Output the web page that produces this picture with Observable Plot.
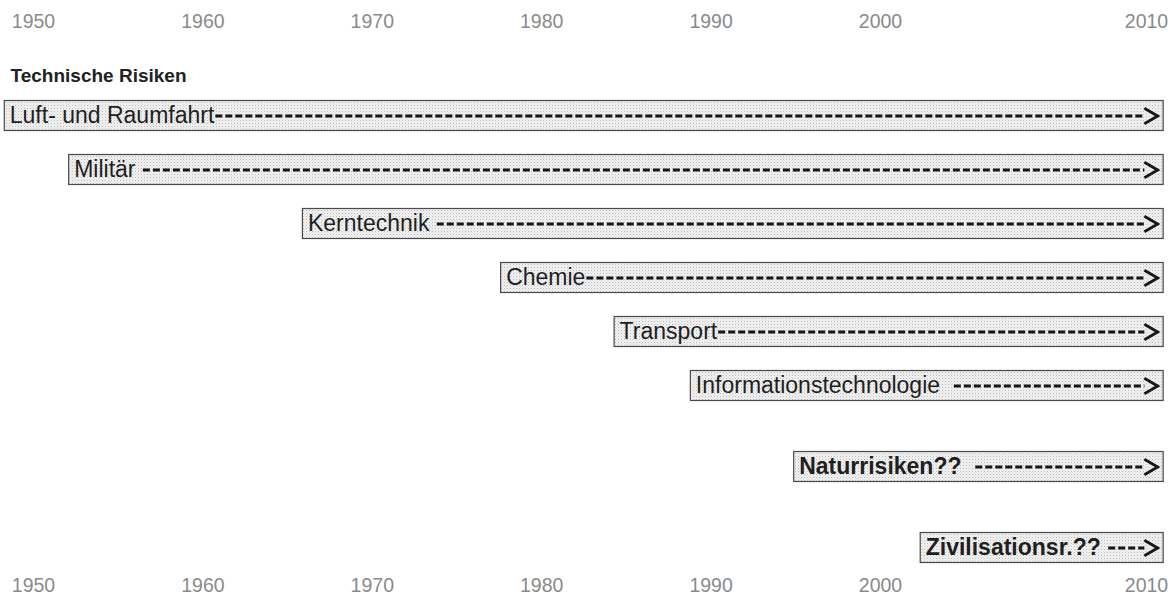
<!DOCTYPE html>
<html><head><meta charset="utf-8">
<script src="https://cdn.jsdelivr.net/npm/d3@7"></script>
<script src="https://cdn.jsdelivr.net/npm/@observablehq/plot@0.6"></script>
<style>
html,body{margin:0;padding:0;background:#fff;}
#chart svg{display:block;font-family:"Liberation Sans",Arial,Helvetica,sans-serif;}
</style></head><body>
<svg width="0" height="0" style="position:absolute">
  <defs>
    <pattern id="stipple" width="3" height="3" patternUnits="userSpaceOnUse">
      <rect width="3" height="3" fill="#f1f1f1"></rect>
      <rect x="0" y="0" width="1" height="1" fill="#bdbdbd"></rect>
      <rect x="1.5" y="1.5" width="1" height="1" fill="#d6d6d6"></rect>
    </pattern>
  </defs>
</svg>
<div id="chart"></div>
<script>
// ---- data ----
const groupTitle = "Technische Risiken";
const categories = ["Luft- und Raumfahrt", "Militär", "Kerntechnik", "Chemie", "Transport", "Informationstechnologie", "Naturrisiken??", "Zivilisationsr.??"];
const gapText   = ["", " ", " ", "", "", "  ", "  ", " "];          // typed spaces between label and dashes
const startYears = [1948.6, 1952.4, 1966.2, 1977.9, 1984.6, 1989.1, 1995.2, 2001.7];
const boldLabel = [false, false, false, false, false, false, true, true];
const endYear = 2010.42;           // arrows run to the right edge (ongoing)
const tickYears = [1950, 1960, 1970, 1980, 1990, 2000, 2010];
const rowGapsAfter = [1, 1, 1, 1, 1, 2, 2]; // empty rows after each category (layout)

// ---- scales ----
const xDomain = [1950, 2000, 2010];
const xRange = [33, 880, 1146];
const xs = d3.scaleLinear().domain(xDomain).range(xRange);

const fontFamily = '"Liberation Sans", Arial, Helvetica, sans-serif';
const labelSize = 23;
const ctx = document.createElement("canvas").getContext("2d");
function textWidth(s, bold) {
  ctx.font = `${bold ? "bold " : ""}${labelSize}px ${fontFamily}`;
  return ctx.measureText(s).width;
}

const yDomain = [];
categories.forEach((c, i) => {
  yDomain.push(c);
  if (i < rowGapsAfter.length) for (let k = 0; k < rowGapsAfter[i]; k++) yDomain.push(`__gap${i}_${k}`);
});

const rows = categories.map((name, i) => {
  const w = textWidth(name + gapText[i], boldLabel[i]);
  return {
    name,
    start: startYears[i],
    end: endYear,
    bold: boldLabel[i],
    dashStart: xs.invert(xs(startYears[i]) + w + 1.5)
  };
});

const chevron = {
  draw(context, size) {
    const r = Math.sqrt(size / Math.PI);
    const hw = r * 1.9, hh = r * 1.1;
    context.moveTo(-hw, -hh);
    context.lineTo(0, 0);
    context.lineTo(-hw, hh);
  }
};

const chart = Plot.plot({
  width: 1168,
  height: 605,
  marginTop: 99,
  marginBottom: 42,
  marginLeft: 10,
  marginRight: 0,
  style: {fontFamily, background: "#fff"},
  x: {type: "linear", domain: xDomain, range: xRange},
  y: {type: "band", domain: yDomain, padding: 0, axis: null},
  marks: [
    Plot.axisX({anchor: "top", ticks: tickYears, tickFormat: d => String(d), tickSize: 0, tickPadding: 72, fontSize: 19.5, color: "#8a8a8a", label: null}),
    Plot.axisX({anchor: "bottom", ticks: tickYears, tickFormat: d => String(d), tickSize: 0, tickPadding: 15, fontSize: 19.5, color: "#8a8a8a", label: null}),
    Plot.text([groupTitle], {frameAnchor: "top-left", text: d => d, dy: -24, textAnchor: "start", lineAnchor: "middle", fontSize: 19, fontWeight: "bold", fill: "#222"}),
    Plot.barX(rows, {x1: "start", x2: "end", y: "name", fill: "url(#stipple)", stroke: "#4a4a4a", strokeWidth: 1.2, insetLeft: -5, insetRight: -6, insetTop: -1.5, insetBottom: -1.5}),
    Plot.ruleY(rows, {x1: "dashStart", x2: "end", y: "name", stroke: "#161616", strokeWidth: 3.2, strokeDasharray: "7,3"}),
    Plot.dot(rows, {x: "end", y: "name", symbol: chevron, r: 7, fill: "url(#stipple)", stroke: "#161616", strokeWidth: 2.8, strokeLinejoin: "miter"}),
    Plot.text(rows.filter(d => !d.bold), {x: "start", y: "name", text: "name", textAnchor: "start", lineAnchor: "middle", fontSize: labelSize, fill: "#1f1f1f"}),
    Plot.text(rows.filter(d => d.bold), {x: "start", y: "name", text: "name", textAnchor: "start", lineAnchor: "middle", fontSize: labelSize, fontWeight: "bold", fill: "#1f1f1f"})
  ]
});
document.getElementById("chart").appendChild(chart);
</script>
</body></html>
